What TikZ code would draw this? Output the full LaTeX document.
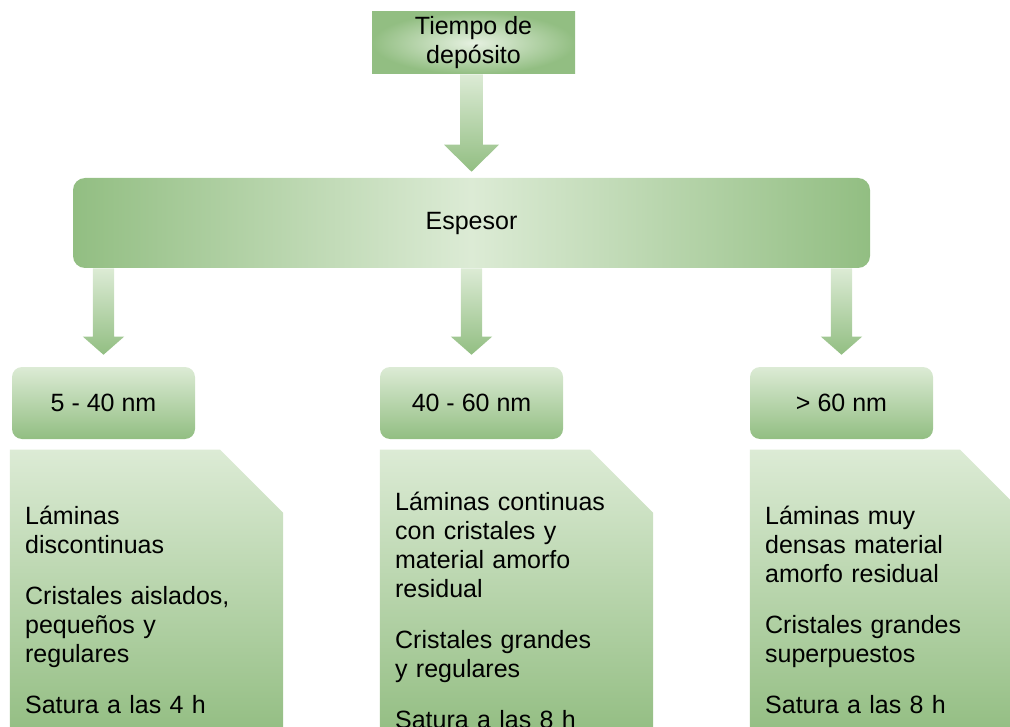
\documentclass[tikz,border=0pt]{standalone}
\usepackage{fontspec}
\setmainfont{Liberation Sans}
\usepackage{tikz}
\usetikzlibrary{calc,backgrounds}
\definecolor{gdark}{RGB}{146,190,130}
\definecolor{glight}{RGB}{220,235,213}
\definecolor{gpale}{RGB}{230,241,225}
\definecolor{gdeep}{RGB}{138,184,120}

% block arrow: from, to, shaft half, head half, head length, gap
\newcommand{\blockarrow}[6]{%
  \path[arr] let \p1=(#1.south), \p2=(#2.north) in
    (\x2-#3,\y1) -- (\x2-#3,\y2+#6+#5) -- (\x2-#4,\y2+#6+#5) -- (\x2,\y2+#6)
    -- (\x2+#4,\y2+#6+#5) -- (\x2+#3,\y2+#6+#5) -- (\x2+#3,\y1) -- cycle;}

\begin{document}
\begin{tikzpicture}[
  x=0.75pt, y=-0.75pt,
  every node/.style={font=\fontsize{18.75pt}{21.75pt}\selectfont, text=black},
  topbox/.style={rectangle, inner color=gpale, outer color=gdark,
              minimum width=152.25pt, minimum height=46.5pt, align=center, inner sep=0pt},
  thickbox/.style={rectangle, rounded corners=9pt, left color=gdark, right color=gdark,
                middle color=glight, minimum width=597.75pt, minimum height=67.5pt},
  rangebox/.style={rectangle, rounded corners=7.5pt, top color=glight, bottom color=gdark,
                minimum width=137.25pt, minimum height=54pt},
  cardbox/.style={text width=182pt, inner xsep=11.25pt, inner ysep=0pt,
               minimum height=240pt, align=left},
  cardfill/.style={top color=glight, bottom color=gdeep},
  arr/.style={top color=glight, bottom color=gdark},
]
\useasboundingbox (0,0) rectangle (1010,727);

\node[topbox] (tiempo) at (473.5,43) {Tiempo de\\depósito};
\node[thickbox] (esp) at (471.5,223) {Espesor};

\node[rangebox] (r1) at (103.5,403) {5 - 40 nm};
\node[rangebox] (r2) at (471.5,403) {40 - 60 nm};
\node[rangebox] (r3) at (841.5,403) {> 60 nm};

\node[cardbox] (c1) at (146.5,610) {Láminas\\discontinuas\\[16.5pt]
  Cristales aislados,\\pequeños y\\regulares\\[16.5pt]Satura a las 4 h};
\node[cardbox] (c2) at (516.5,610) {Láminas continuas\\con cristales y\\material amorfo\\residual\\[16.5pt]
  Cristales grandes\\y regulares\\[16.5pt]Satura a las 8 h};
\node[cardbox] (c3) at (886.5,610) {Láminas muy\\densas material\\amorfo residual\\[16.5pt]
  Cristales grandes\\superpuestos\\[16.5pt]Satura a las 8 h};

\blockarrow{tiempo}{esp}{8.6pt}{20.6pt}{20.25pt}{4.5pt}
\foreach \r in {r1,r2,r3}{
  \blockarrow{esp}{\r}{7.9pt}{15.4pt}{13.5pt}{9pt}
}

% cards with the cut corner, behind their text
\begin{scope}[on background layer]
  \clip (0,0) rectangle (1010,727);
  \foreach \c in {c1,c2,c3}
    \path[cardfill] (\c.north west) -- ([xshift=-47.25pt]\c.north east)
      -- ([yshift=-47.25pt]\c.north east) -- (\c.south east) -- (\c.south west) -- cycle;
\end{scope}
\end{tikzpicture}
\end{document}
